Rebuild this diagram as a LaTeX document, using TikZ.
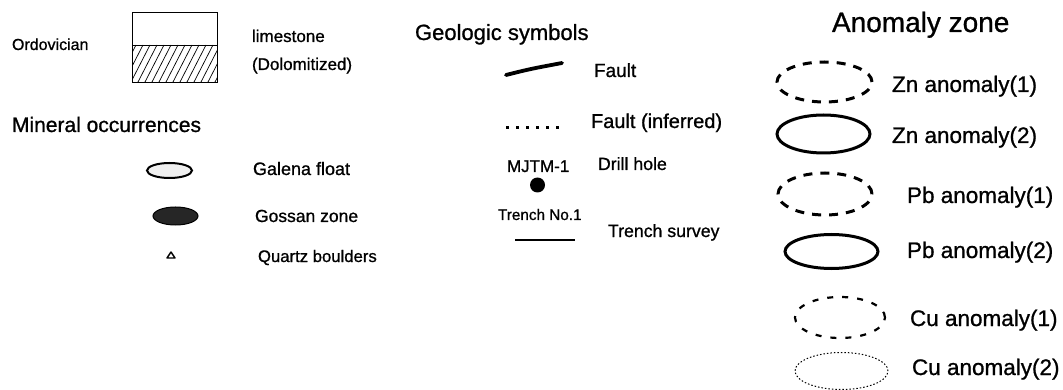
\documentclass[tikz,border=0pt]{standalone}
\usepackage{fontspec}
\setmainfont{Liberation Sans}[RawFeature={embolden=0.9}]
\usetikzlibrary{shapes.geometric}
\newcommand\lgfs[1]{\fontsize{#1pt}{#1pt}\selectfont}
\tikzset{
  lbl/.style={anchor=base west, inner sep=0pt, outer sep=0pt, text=black},
  ell/.style={ellipse, inner sep=0pt, outer sep=0pt, draw=black},
  anomdash/.style={ell, line width=3pt, dash pattern=on 9pt off 8pt},
  anomsolid/.style={ell, line width=3pt},
}
\begin{document}
\begin{tikzpicture}[x=1pt,y=-1pt]
\useasboundingbox (0,0) rectangle (1063,390);
\fill[white] (0,0) rectangle (1063,390);

% ---- Ordovician / limestone ----
\node[lbl] (ordo) at (12,50) {\lgfs{16}Ordovician};
\node[draw=black, line width=1.2pt, inner sep=0pt, minimum width=85pt, minimum height=33pt, anchor=north west] (lstop) at (132,12) {};
\begin{scope}
  \clip (132,45) rectangle (217,82);
  \foreach \x in {96,103,...,224} \draw[line width=0.7pt] (\x,82) -- (\x+19,45);
\end{scope}
\node[draw=black, line width=1.2pt, inner sep=0pt, minimum width=85pt, minimum height=37pt, anchor=north west] (lsbot) at (132,45) {};
\node[lbl] (lime) at (252,42) {\lgfs{17}limestone};
\node[lbl] (dolo) at (252,70) {\lgfs{17}(Dolomitized)};

% ---- Mineral occurrences ----
\node[lbl] (minocc) at (12,132) {\lgfs{21}Mineral occurrences};
\node[ell, line width=2pt, fill=gray!12, minimum width=45pt, minimum height=15pt] (galena) at (169.5,170.5) {};
\node[lbl] (galenat) at (253,175) {\lgfs{18}Galena float};
\node[ell, line width=1pt, fill=black!85, minimum width=45pt, minimum height=18pt] (gossan) at (175.5,216) {};
\node[lbl] (gossant) at (255,222) {\lgfs{17.5}Gossan zone};
\draw[line width=1.4pt, line join=round] (167,258) -- (175,258) -- (171,252) -- cycle;
\node[lbl] (quartzt) at (258,262) {\lgfs{16.7}Quartz boulders};

% ---- Geologic symbols ----
\node[lbl] (geosym) at (415,40) {\lgfs{22}Geologic symbols};
\coordinate (f1) at (506,75);
\coordinate (f2) at (562,63);
\draw[line width=3.8pt, line cap=round] (f1) .. controls (530,69) .. (f2);
\node[lbl] (fault) at (594,77) {\lgfs{19}Fault};
\coordinate (d1) at (506,128);
\coordinate (d2) at (560,128);
\draw[line width=3pt, dash pattern=on 3pt off 7pt] (d1) -- (d2);
\node[lbl] (faultinf) at (591,128) {\lgfs{20}Fault (inferred)};
\node[lbl] (mjtm) at (507,172) {\lgfs{17}MJTM-1};
\node[circle, fill=black, inner sep=0pt, minimum size=15pt] (drill) at (537.5,185) {};
\node[lbl] (drillt) at (598,170) {\lgfs{17.7}Drill hole};
\node[lbl] (trenchno) at (498,220) {\lgfs{15.3}Trench No.1};
\coordinate (t1) at (515,240);
\coordinate (t2) at (575,240);
\draw[line width=2.6pt] (t1) -- (t2);
\node[lbl] (trencht) at (608,237) {\lgfs{17.7}Trench survey};

% ---- Anomaly zone ----
\node[lbl] (anom) at (832,32) {\lgfs{28}Anomaly zone};
\node[anomdash, minimum width=95pt, minimum height=40pt] (zn1) at (824.5,82) {};
\node[lbl] (zn1t) at (892,92) {\lgfs{22.5}Zn anomaly(1)};
\node[anomsolid, minimum width=93pt, minimum height=38pt] (zn2) at (823.5,134) {};
\node[lbl] (zn2t) at (892,143) {\lgfs{22.5}Zn anomaly(2)};
\node[anomdash, minimum width=94pt, minimum height=42pt] (pb1) at (825,194) {};
\node[lbl] (pb1t) at (907,203) {\lgfs{22.5}Pb anomaly(1)};
\node[anomsolid, minimum width=93pt, minimum height=34pt] (pb2) at (831.5,251.5) {};
\node[lbl] (pb2t) at (907,258) {\lgfs{22.5}Pb anomaly(2)};
\node[ell, line width=2.2pt, dash pattern=on 6pt off 9pt, minimum width=90pt, minimum height=41pt] (cu1) at (840,317.5) {};
\node[lbl] (cu1t) at (910,326) {\lgfs{22.5}Cu anomaly(1)};
\node[ell, line width=1pt, dash pattern=on 1.5pt off 2pt, minimum width=93pt, minimum height=37pt] (cu2) at (841.5,371) {};
\node[lbl] (cu2t) at (912,375) {\lgfs{22.5}Cu anomaly(2)};
\end{tikzpicture}
\end{document}
